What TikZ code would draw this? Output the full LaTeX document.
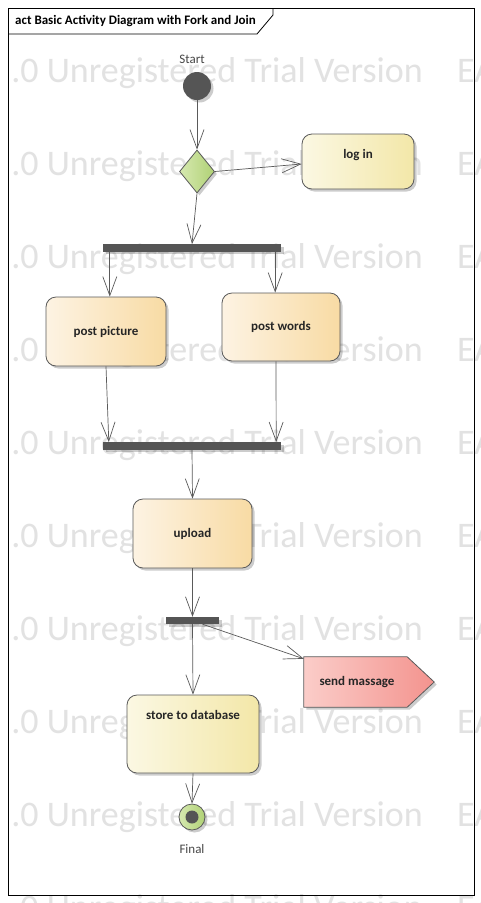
\documentclass[tikz,border=0pt]{standalone}
\usepackage{fontspec}
\setmainfont{Carlito}
\usetikzlibrary{arrows.meta,shapes.geometric,shadows,calc}
\definecolor{linec}{HTML}{5A5A5A}
\definecolor{barc}{HTML}{555555}
\definecolor{orl}{HTML}{FDF3E3}
\definecolor{orr}{HTML}{F8DBA4}
\definecolor{yel}{HTML}{FBF8E3}
\definecolor{yer}{HTML}{F3E7A8}
\definecolor{pkl}{HTML}{FBCDC9}
\definecolor{pkr}{HTML}{F3938E}
\definecolor{grl}{HTML}{D6E9B0}
\definecolor{grr}{HTML}{B0D175}
\definecolor{wm}{HTML}{E2E2E2}
\definecolor{txt}{HTML}{262626}
\begin{document}
\begin{tikzpicture}[x=1pt,y=-1pt,
 shadowed/.style={drop shadow={shadow xshift=2.5pt,shadow yshift=-2.5pt,opacity=0.2,fill=black}},
 act/.style={shadowed, draw=linec, line width=0.8pt, rounded corners=10pt, inner sep=3pt, font=\fontsize{13}{15}\selectfont\bfseries, text=txt},
 orange/.style={act, left color=orl, right color=orr},
 yellow/.style={act, left color=yel, right color=yer},
 bar/.style={shadowed, fill=barc, inner sep=0pt, minimum height=7.5pt},
 flow/.style={draw=linec, line width=0.7pt, -{Straight Barb[length=19pt,width=14pt]}},
 lbl/.style={font=\fontsize{13}{15}\selectfont, text=txt!85, inner sep=0pt},
 wmark/.style={font=\fontsize{36}{40}\selectfont, text=wm, inner sep=0pt}
]
\useasboundingbox (0,0) rectangle (481,903);
\fill[white] (0,0) rectangle (481,903);
\begin{scope}
\clip (0,0) rectangle (481,903);
\foreach \k in {0,...,9} {
 \node[wmark, anchor=base east] (wa\k) at (423, 82+93*\k) {.0 Unregistered Trial Version};
 \node[wmark, anchor=base west] (wb\k) at (457, 82+93*\k) {EA};
}
\end{scope}
% frame
\draw[black, line width=0.8pt] (8,8) rectangle (474,895);
\draw[black, line width=0.8pt] (8,34) -- (257,34) -- (273,15) -- (273,8);
\node[anchor=west, font=\fontsize{13}{15}\selectfont\bfseries, inner sep=0pt] (title) at (15,21) {act Basic Activity Diagram with Fork and Join};
% nodes
\node[circle, fill=barc, minimum size=28pt, inner sep=0pt, shadowed] (start) at (197,86) {};
\node[lbl] (startl) at (192,59) {Start};
\node[diamond, draw=linec, line width=0.8pt, left color=grl, right color=grr, minimum width=35pt, minimum height=43pt, inner sep=0pt, shadowed] (dec) at (197,171.5) {};
\node[yellow, minimum width=112pt, minimum height=55pt, text height=8pt, text depth=14pt] (login) at (358,161.5) {log in};
\node[bar, minimum width=178pt] (fork) at (192,248) {};
\node[orange, minimum width=120pt, minimum height=69pt] (pp) at (106,331.5) {post picture};
\node[orange, minimum width=118pt, minimum height=68pt] (pw) at (281,327) {post words};
\node[bar, minimum width=178pt] (join) at (192,446) {};
\node[orange, minimum width=119pt, minimum height=69pt] (up) at (192.5,533.5) {upload};
\node[bar, minimum width=53pt, minimum height=7pt] (fork2) at (192.5,620.5) {};
\node[yellow, minimum width=132pt, minimum height=78pt, text height=8pt, text depth=38pt] (store) at (193,734) {store to database};
\node[minimum width=103pt, minimum height=50pt, inner sep=0pt] (send) at (355.5,682) {};
\path[shadowed, draw=linec, line width=0.8pt, left color=pkl, right color=pkr]
  (send.north west) -- (send.north east) -- ($(send.east)+(27,0)$) -- (send.south east) -- (send.south west) -- cycle;
\node[font=\fontsize{13}{15}\selectfont\bfseries, text=txt, inner sep=0pt] (sendt) at ([xshift=1.5pt]send.center) {send massage};
\node[circle, draw=linec, line width=0.8pt, left color=grl, right color=grr, minimum size=26pt, inner sep=0pt, shadowed] (final) at (192,817) {};
\fill[barc] (final.center) circle (6.5pt);
\node[lbl] (finall) at (192,849) {Final};
% edges
\draw[flow] (start) -- (dec);
\draw[flow] (dec.east) -- ([yshift=-2.5pt]login.west);
\draw[flow] (dec.south) -- (fork.north);
\draw[flow] ([xshift=7pt]fork.south west) -- ([xshift=7pt]fork.south west |- pp.north);
\draw[flow] ([xshift=-6pt]fork.south east) -- ([xshift=-6pt]fork.south east |- pw.north);
\draw[flow] (pp.south) -- ([xshift=6pt]join.north west);
\draw[flow] ([xshift=-5pt]pw.south) -- ([xshift=-5pt]join.north east);
\draw[flow] (join.south) -- (up.north);
\draw[flow] (up.south) -- (fork2.north);
\draw[flow] (fork2.south) -- (store.north);
\draw[flow] ([xshift=10pt]fork2.south) -- ([yshift=-2pt]send.north west);
\draw[flow] (store.south) -- (final.north);
\end{tikzpicture}
\end{document}
